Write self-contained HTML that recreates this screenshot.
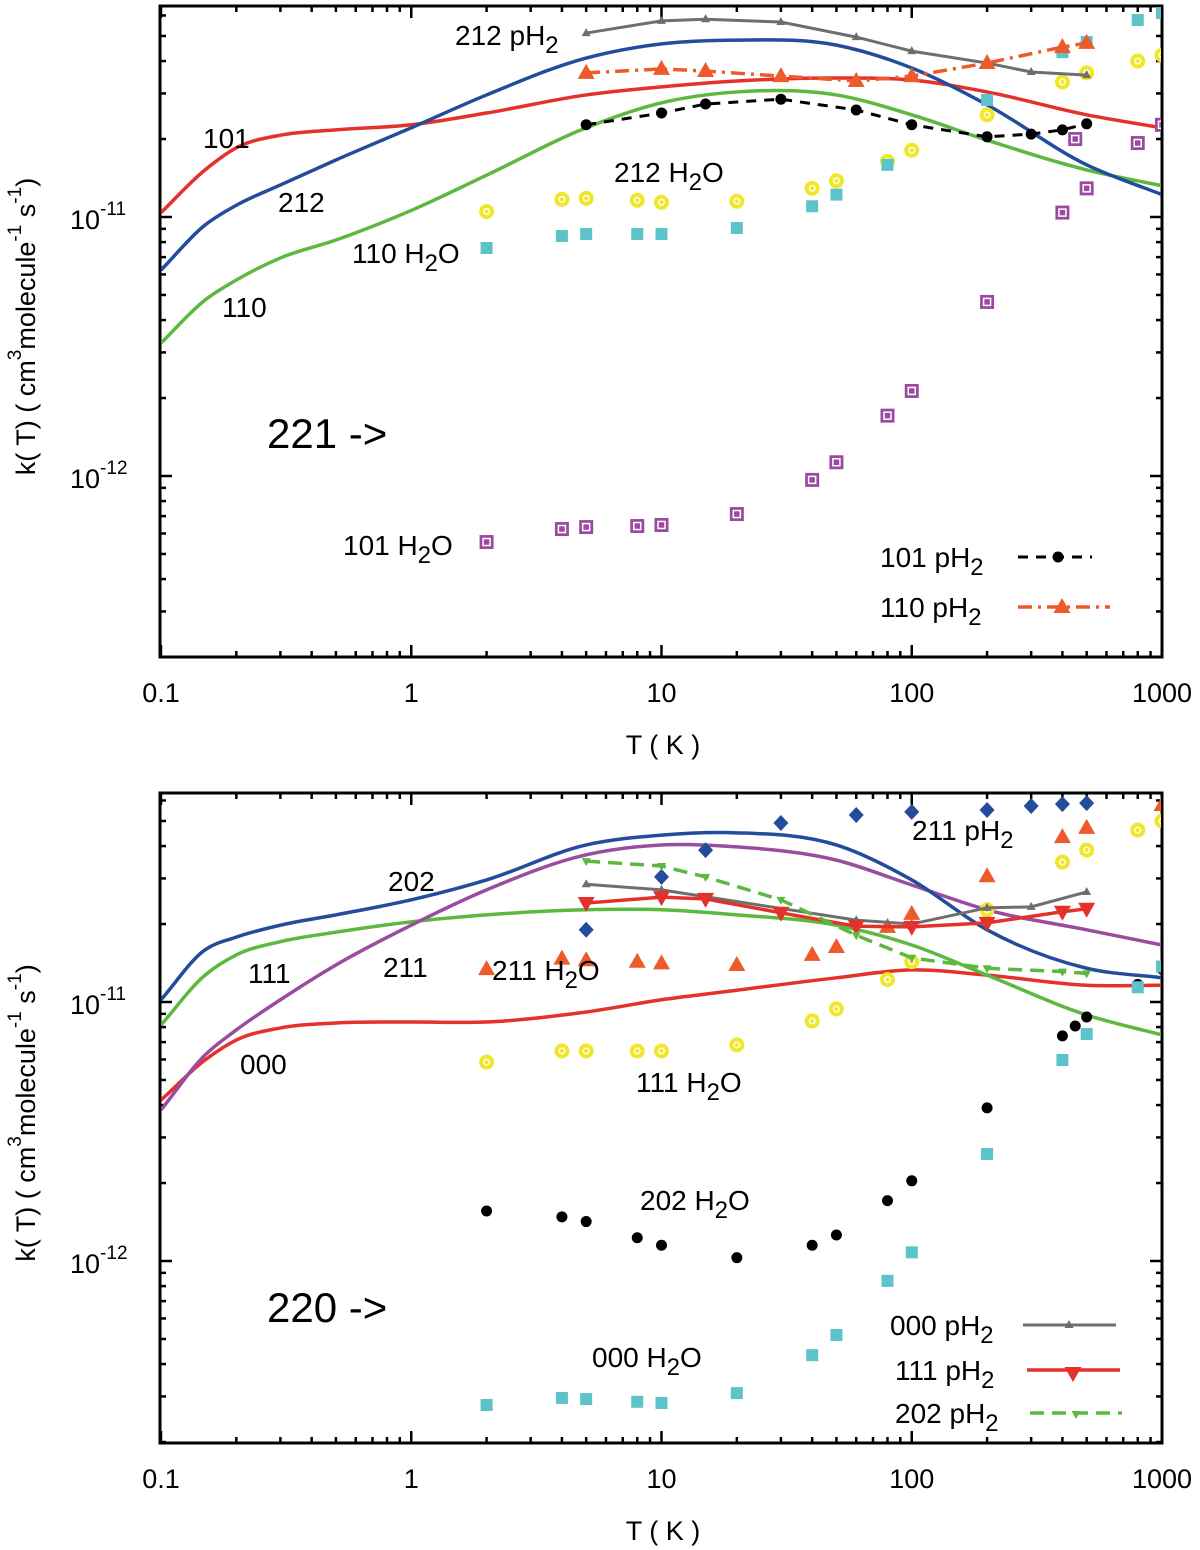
<!DOCTYPE html>
<html><head><meta charset="utf-8"><style>
html,body{margin:0;padding:0;background:#fff;}
svg{display:block;font-family:"Liberation Sans",sans-serif;}
</style></head><body>
<svg id="fig" width="1200" height="1550" viewBox="0 0 1200 1550" xmlns="http://www.w3.org/2000/svg">
<g id="p1"></g>
<g id="p2"></g>
</svg>
<script>
// ---------- data (k in cm^3 molecule^-1 s^-1) ----------
const curveT = [0.1,0.15,0.2,0.3,0.5,1,2,5,10,20,50,100,200,500,1000];
const top101 = [1.04e-11,1.52e-11,1.85e-11,2.07e-11,2.17e-11,2.27e-11,2.52e-11,2.96e-11,3.18e-11,3.35e-11,3.44e-11,3.38e-11,3.04e-11,2.48e-11,2.21e-11];
const top212 = [0.624e-11,0.931e-11,1.11e-11,1.33e-11,1.66e-11,2.21e-11,2.96e-11,4.11e-11,4.66e-11,4.82e-11,4.61e-11,3.76e-11,2.71e-11,1.59e-11,1.22e-11];
const top110 = [0.326e-11,0.478e-11,0.571e-11,0.695e-11,0.815e-11,1.06e-11,1.45e-11,2.21e-11,2.76e-11,3.04e-11,2.96e-11,2.48e-11,1.98e-11,1.52e-11,1.32e-11];

const pH2_212_T = [5,10,15,30,60,100,200,300,500];
const pH2_212_k = [5.13e-11,5.72e-11,5.8e-11,5.66e-11,4.95e-11,4.37e-11,3.93e-11,3.63e-11,3.53e-11];
const pH2_110_T = [5,10,15,30,60,100,200,400,500];
const pH2_110_k = [3.6e-11,3.73e-11,3.66e-11,3.5e-11,3.35e-11,3.5e-11,3.93e-11,4.53e-11,4.7e-11];
const pH2_101_T = [5,10,15,30,60,100,200,300,400,500];
const pH2_101_k = [2.27e-11,2.52e-11,2.73e-11,2.85e-11,2.59e-11,2.27e-11,2.04e-11,2.09e-11,2.17e-11,2.29e-11];

const h2oT = [2,4,5,8,10,20,40,50,80,100,200,400,500,800,1000];
const h2o212_k = [1.05e-11,1.17e-11,1.18e-11,1.16e-11,1.14e-11,1.15e-11,1.29e-11,1.38e-11,1.64e-11,1.81e-11,2.48e-11,3.32e-11,3.6e-11,4.0e-11,4.22e-11];
const h2o110_T = [2,4,5,8,10,20,40,50,80,200,400,500,800,1000];
const h2o110_k = [0.759e-11,0.845e-11,0.86e-11,0.86e-11,0.86e-11,0.907e-11,1.10e-11,1.22e-11,1.59e-11,2.83e-11,4.33e-11,4.74e-11,5.76e-11,6.13e-11];
const h2o101_T = [2,4,5,8,10,20,40,50,80,100,200,400,450,500,800,1000];
const h2o101_k = [5.56e-13,6.24e-13,6.35e-13,6.41e-13,6.47e-13,7.13e-13,9.66e-13,1.13e-12,1.71e-12,2.13e-12,4.7e-12,1.04e-11,2.0e-11,1.29e-11,1.93e-11,2.27e-11];

const bot202 = [1.02e-11,1.59e-11,1.78e-11,1.98e-11,2.17e-11,2.48e-11,2.96e-11,4.04e-11,4.41e-11,4.5e-11,4.04e-11,2.96e-11,1.9e-11,1.35e-11,1.24e-11];
const bot111 = [0.815e-11,1.27e-11,1.52e-11,1.71e-11,1.86e-11,2.04e-11,2.17e-11,2.27e-11,2.27e-11,2.17e-11,1.98e-11,1.66e-11,1.27e-11,0.891e-11,0.746e-11];
const bot211 = [0.383e-11,0.624e-11,0.78e-11,1.02e-11,1.39e-11,1.98e-11,2.71e-11,3.7e-11,4.04e-11,3.97e-11,3.53e-11,2.83e-11,2.27e-11,1.9e-11,1.66e-11];
const bot000 = [0.418e-11,0.597e-11,0.713e-11,0.794e-11,0.83e-11,0.837e-11,0.837e-11,0.915e-11,1.02e-11,1.11e-11,1.24e-11,1.33e-11,1.27e-11,1.16e-11,1.16e-11];

const pH2_000_T = [5,10,60,100,200,300,500];
const pH2_000_k = [2.85e-11,2.71e-11,2.07e-11,2.0e-11,2.31e-11,2.33e-11,2.66e-11];
const pH2_111_T = [5,10,15,30,60,100,200,400,500];
const pH2_111_k = [2.41e-11,2.54e-11,2.5e-11,2.21e-11,1.96e-11,1.95e-11,2.02e-11,2.23e-11,2.29e-11];
const pH2_202_T = [5,10,15,30,60,100,200,400,500];
const pH2_202_k = [3.5e-11,3.35e-11,3.04e-11,2.48e-11,1.81e-11,1.48e-11,1.35e-11,1.31e-11,1.29e-11];
const pH2_211_T = [5,10,15,30,60,100,200,300,400,500];
const pH2_211_k = [1.9e-11,3.04e-11,3.86e-11,4.91e-11,5.27e-11,5.42e-11,5.51e-11,5.71e-11,5.81e-11,5.86e-11];

const h2o211_T = [2,4,5,8,10,20,40,50,80,100,200,400,500,1000];
const h2o211_k = [1.34e-11,1.47e-11,1.45e-11,1.43e-11,1.41e-11,1.39e-11,1.52e-11,1.63e-11,1.95e-11,2.19e-11,3.06e-11,4.33e-11,4.7e-11,5.76e-11];
const h2o111_T = [2,4,5,8,10,20,40,50,80,100,200,400,500,800,1000];
const h2o111_k = [0.586e-11,0.647e-11,0.647e-11,0.647e-11,0.647e-11,0.683e-11,0.845e-11,0.94e-11,1.22e-11,1.43e-11,2.27e-11,3.47e-11,3.86e-11,4.61e-11,5.0e-11];
const h2o202_T = [2,4,5,8,10,20,40,50,80,100,200,400,450,500,800,1000];
const h2o202_k = [1.56e-12,1.48e-12,1.42e-12,1.23e-12,1.15e-12,1.03e-12,1.15e-12,1.26e-12,1.71e-12,2.04e-12,3.9e-12,7.4e-12,8.08e-12,8.75e-12,1.17e-11,1.34e-11];
const h2o000_T = [2,4,5,8,10,20,40,50,80,100,200,400,500,800,1000];
const h2o000_k = [2.78e-13,2.96e-13,2.93e-13,2.86e-13,2.83e-13,3.09e-13,4.33e-13,5.18e-13,8.38e-13,1.08e-12,2.59e-12,5.97e-12,7.52e-12,1.14e-11,1.37e-11];

const xTickVals = [0.1,1,10,100,1000];
const xTickLabels = ["0.1","1","10","100","1000"];
const yTickExps = [-11,-12];

// ---------- drawing ----------
const NS = "http://www.w3.org/2000/svg";
const X0 = 161, PXD = 250.25;
function xs(T){ return X0 + (Math.log10(T)+1)*PXD; }
function mkY(y11){ return k => y11 - (Math.log10(k)+11)*259; }
function el(parent, tag, attrs){ const e=document.createElementNS(NS,tag); for(const a in attrs) e.setAttribute(a,attrs[a]); parent.appendChild(e); return e; }
const C = {red:"#e4312b",blue:"#234d9c",green:"#5cb83e",purple:"#9a4d9e",gray:"#6e6e6e",orange:"#ee5a2a",yellow:"#f0e62a",cyan:"#5bc3c9",psq:"#9b4aa0",black:"#000"};

// cubic Hermite in x with finite-difference slopes (handles uneven spacing)
function smoothPath(pts){
  const n=pts.length, m=[];
  for(let i=0;i<n;i++){
    if(i===0) m.push((pts[1][1]-pts[0][1])/(pts[1][0]-pts[0][0]));
    else if(i===n-1) m.push((pts[n-1][1]-pts[n-2][1])/(pts[n-1][0]-pts[n-2][0]));
    else { const d0=(pts[i][1]-pts[i-1][1])/(pts[i][0]-pts[i-1][0]), d1=(pts[i+1][1]-pts[i][1])/(pts[i+1][0]-pts[i][0]);
      const h0=pts[i][0]-pts[i-1][0], h1=pts[i+1][0]-pts[i][0];
      m.push((d0*h1+d1*h0)/(h0+h1)); }
  }
  let d=`M${pts[0][0]},${pts[0][1]}`;
  for(let i=0;i<n-1;i++){
    const h=(pts[i+1][0]-pts[i][0])/3;
    d+=` C${pts[i][0]+h},${pts[i][1]+m[i]*h} ${pts[i+1][0]-h},${pts[i+1][1]-m[i+1]*h} ${pts[i+1][0]},${pts[i+1][1]}`;
  }
  return d;
}

function marker(g, type, x, y, color, name){
  let m;
  if(type==="dot"){ m=el(g,"circle",{cx:x,cy:y,r:5.5,fill:color}); }
  else if(type==="tri"){ m=el(g,"polygon",{points:`${x},${y-9} ${x-8.5},${y+6} ${x+8.5},${y+6}`,fill:color}); }
  else if(type==="tris"){ m=el(g,"polygon",{points:`${x},${y-5} ${x-4.5},${y+3} ${x+4.5},${y+3}`,fill:color}); }
  else if(type==="dtri"){ m=el(g,"polygon",{points:`${x},${y+9} ${x-8.5},${y-6} ${x+8.5},${y-6}`,fill:color}); }
  else if(type==="dtris"){ m=el(g,"polygon",{points:`${x},${y+5} ${x-4.5},${y-3} ${x+4.5},${y-3}`,fill:color}); }
  else if(type==="diam"){ m=el(g,"polygon",{points:`${x},${y-8} ${x+7.5},${y} ${x},${y+8} ${x-7.5},${y}`,fill:color}); }
  else if(type==="sq"){ m=el(g,"rect",{x:x-6,y:y-6,width:12,height:12,fill:color}); }
  else if(type==="ring"){ m=el(g,"g",{}); el(m,"circle",{cx:x,cy:y,r:7.5,fill:color}); el(m,"circle",{cx:x,cy:y,r:2.8,fill:"none",stroke:"#fff","stroke-width":1.4}); }
  else if(type==="psq"){ m=el(g,"g",{}); el(m,"rect",{x:x-7,y:y-7,width:14,height:14,fill:color}); el(m,"rect",{x:x-3.5,y:y-3.5,width:7,height:7,fill:"none",stroke:"#fff","stroke-width":1.5}); }
  
  
  return m;
}

function series(g, Ts, ks, ys, opt){
  const sg = el(g,"g",{});
  
  
  const pts = Ts.map((t,i)=>[xs(t), ys(ks[i])]);
  if(opt.line){
    const p = el(sg,"path",{d: opt.smooth? smoothPath(pts) : "M"+pts.map(p=>p.join(",")).join(" L"), fill:"none", stroke:opt.color, "stroke-width":opt.w||3.5, "stroke-dasharray":opt.dash||"none"});
    
    
  }
  if(opt.marker){ pts.forEach(p=>marker(sg,opt.marker,p[0],p[1],opt.mcolor||opt.color,opt.name+'-point')); }
}

function text(g, x, y, str, size, name, anchor, sub){
  const t = el(g,"text",{x:x,y:y,"font-size":size,fill:"#000","text-anchor":anchor||"start"});
  t.textContent = str;
  if(sub){ const s=el(t,"tspan",{dy:8,"font-size":size*0.85}); s.textContent=sub; }
  
  
  return t;
}

function axes(g, top, bottom, y11){
  const ys = mkY(y11);
  const ag = el(g,"g",{});
  
  
  const L=160,R=1162;
  for(let e=-1;e<3;e++){ for(let m=2;m<10;m++){ const x=xs(m*Math.pow(10,e)); el(ag,"line",{x1:x,x2:x,y1:bottom,y2:bottom-6,stroke:"#000","stroke-width":2.5}); el(ag,"line",{x1:x,x2:x,y1:top,y2:top+6,stroke:"#000","stroke-width":2.5}); } }
  xTickVals.forEach((v,i)=>{ const x=xs(v); el(ag,"line",{x1:x,x2:x,y1:bottom,y2:bottom-12,stroke:"#000","stroke-width":2.5}); el(ag,"line",{x1:x,x2:x,y1:top,y2:top+12,stroke:"#000","stroke-width":2.5});
    text(ag,x,bottom+45,xTickLabels[i],27,'x-tick-label','middle'); });
  for(let e=-13;e<=-10;e++){
    for(let m=1;m<10;m++){ const y=ys(m*Math.pow(10,e)); if(y<top||y>bottom) continue; const len=m===1?12:6;
      el(ag,"line",{x1:L,x2:L+len,y1:y,y2:y,stroke:"#000","stroke-width":2.5}); el(ag,"line",{x1:R,x2:R-len,y1:y,y2:y,stroke:"#000","stroke-width":2.5}); }
  }
  yTickExps.forEach(e=>{ const y=ys(Math.pow(10,e)); const t=el(ag,"text",{x:70,y:y+12,"font-size":27}); t.textContent="10"; const s=el(t,"tspan",{dy:-14,"font-size":19}); s.textContent=String(e);   });
  const fr = el(ag,"rect",{x:L,y:top,width:R-L,height:bottom-top,fill:"none",stroke:"#000","stroke-width":3});
   
  text(ag,663,bottom+97,"T ( K )",27,'x-axis-title','middle');
  const cy=(top+bottom)/2-5;
  const yt=el(ag,"text",{x:0,y:0,"font-size":27,"text-anchor":"middle",transform:`translate(35,${cy}) rotate(-90)`});
  yt.innerHTML='k( T)  ( cm<tspan dy="-14" font-size="19">3</tspan><tspan dy="14">molecule</tspan><tspan dy="-14" font-size="19">-1</tspan><tspan dy="14"> s</tspan><tspan dy="-14" font-size="19">-1</tspan><tspan dy="14">)</tspan>';
   
  return ys;
}

function clipFor(id, top, bottom){
  const d=el(document.getElementById('fig'),"defs",{});
  const cp=el(d,"clipPath",{id:id}); el(cp,"rect",{x:161,y:top,width:1000,height:bottom-top});
}

(function(){
  const g=document.getElementById('p1');
  const ys=axes(g,6,657,217);
  clipFor('c1',7,656);
  const d=el(g,"g",{"clip-path":"url(#c1)"});
  series(d,curveT,top101,ys,{name:'curve-101',line:true,smooth:true,color:C.red});
  series(d,curveT,top110,ys,{name:'curve-110',line:true,smooth:true,color:C.green});
  series(d,curveT,top212,ys,{name:'curve-212',line:true,smooth:true,color:C.blue});
  series(d,h2oT,h2o212_k,ys,{name:'h2o-212',marker:'ring',color:C.yellow});
  series(d,h2o110_T,h2o110_k,ys,{name:'h2o-110',marker:'sq',color:C.cyan});
  series(d,h2o101_T,h2o101_k,ys,{name:'h2o-101',marker:'psq',color:C.psq});
  series(d,pH2_212_T,pH2_212_k,ys,{name:'ph2-212',line:true,marker:'tris',color:C.gray,w:3});
  series(d,pH2_110_T,pH2_110_k,ys,{name:'ph2-110',line:true,marker:'tri',color:C.orange,w:3.5,dash:"14 6 3 6"});
  series(d,pH2_101_T,pH2_101_k,ys,{name:'ph2-101',line:true,marker:'dot',color:C.black,w:3,dash:"10 8"});
  text(g,455,45,"212 pH",28,'label-212-ph2','start','2');
  text(g,203,148,"101",28,'label-101');
  text(g,278,212,"212",28,'label-212');
  text(g,614,182,"212 H",28,'label-212-h2o','start','2').insertAdjacentHTML('beforeend','<tspan dy="-8">O</tspan>');
  text(g,352,263,"110 H",28,'label-110-h2o','start','2').insertAdjacentHTML('beforeend','<tspan dy="-8">O</tspan>');
  text(g,222,317,"110",28,'label-110');
  text(g,267,448,"221 ->",42,'panel-title-221');
  text(g,343,555,"101 H",28,'label-101-h2o','start','2').insertAdjacentHTML('beforeend','<tspan dy="-8">O</tspan>');
  const lg=el(g,"g",{});  
  text(lg,880,567,"101 pH",28,'legend-label-101-ph2','start','2');
  el(lg,"line",{x1:1018,x2:1092,y1:557,y2:557,stroke:"#000","stroke-width":3,"stroke-dasharray":"10 8"}); marker(lg,'dot',1058,557,C.black,'legend-marker-101');
  text(lg,880,617,"110 pH",28,'legend-label-110-ph2','start','2');
  el(lg,"line",{x1:1018,x2:1110,y1:607,y2:607,stroke:C.orange,"stroke-width":3.5,"stroke-dasharray":"14 6 3 6"}); marker(lg,'tri',1062,607,C.orange,'legend-marker-110');
})();

(function(){
  const g=document.getElementById('p2');
  const ys=axes(g,793,1443,1002);
  clipFor('c2',794,1442);
  const d=el(g,"g",{"clip-path":"url(#c2)"});
  series(d,curveT,bot000,ys,{name:'curve-000',line:true,smooth:true,color:C.red});
  series(d,curveT,bot111,ys,{name:'curve-111',line:true,smooth:true,color:C.green});
  series(d,curveT,bot211,ys,{name:'curve-211',line:true,smooth:true,color:C.purple});
  series(d,curveT,bot202,ys,{name:'curve-202',line:true,smooth:true,color:C.blue});
  series(d,h2o211_T,h2o211_k,ys,{name:'h2o-211',marker:'tri',color:C.orange});
  series(d,h2o111_T,h2o111_k,ys,{name:'h2o-111',marker:'ring',color:C.yellow});
  series(d,h2o202_T,h2o202_k,ys,{name:'h2o-202',marker:'dot',color:C.black});
  series(d,h2o000_T,h2o000_k,ys,{name:'h2o-000',marker:'sq',color:C.cyan});
  series(d,pH2_211_T,pH2_211_k,ys,{name:'ph2-211',marker:'diam',color:C.blue});
  series(d,pH2_000_T,pH2_000_k,ys,{name:'ph2-000',line:true,marker:'tris',color:C.gray,w:3});
  series(d,pH2_111_T,pH2_111_k,ys,{name:'ph2-111',line:true,marker:'dtri',color:C.red,w:3.5});
  series(d,pH2_202_T,pH2_202_k,ys,{name:'ph2-202',line:true,marker:'dtris',color:C.green,w:3.5,dash:"14 8"});
  text(g,912,840,"211 pH",28,'label-211-ph2','start','2');
  text(g,388,891,"202",28,'label-202');
  text(g,248,983,"111",28,'label-111');
  text(g,383,977,"211",28,'label-211');
  text(g,492,980,"211 H",28,'label-211-h2o','start','2').insertAdjacentHTML('beforeend','<tspan dy="-8">O</tspan>');
  text(g,240,1074,"000",28,'label-000');
  text(g,636,1092,"111 H",28,'label-111-h2o','start','2').insertAdjacentHTML('beforeend','<tspan dy="-8">O</tspan>');
  text(g,640,1210,"202 H",28,'label-202-h2o','start','2').insertAdjacentHTML('beforeend','<tspan dy="-8">O</tspan>');
  text(g,267,1322,"220 ->",42,'panel-title-220');
  text(g,592,1367,"000 H",28,'label-000-h2o','start','2').insertAdjacentHTML('beforeend','<tspan dy="-8">O</tspan>');
  const lg=el(g,"g",{});  
  text(lg,890,1335,"000 pH",28,'legend-label-000-ph2','start','2');
  el(lg,"line",{x1:1023,x2:1116,y1:1325,y2:1325,stroke:C.gray,"stroke-width":3}); marker(lg,'tris',1069,1325,C.gray,'legend-marker-000');
  text(lg,895,1380,"111 pH",28,'legend-label-111-ph2','start','2');
  el(lg,"line",{x1:1027,x2:1120,y1:1370,y2:1370,stroke:C.red,"stroke-width":3.5}); marker(lg,'dtri',1073,1373,C.red,'legend-marker-111');
  text(lg,895,1423,"202 pH",28,'legend-label-202-ph2','start','2');
  el(lg,"line",{x1:1030,x2:1122,y1:1413,y2:1413,stroke:C.green,"stroke-width":3.5,"stroke-dasharray":"14 8"}); marker(lg,'dtris',1076,1414,C.green,'legend-marker-202');
})();
</script>
</body></html>
